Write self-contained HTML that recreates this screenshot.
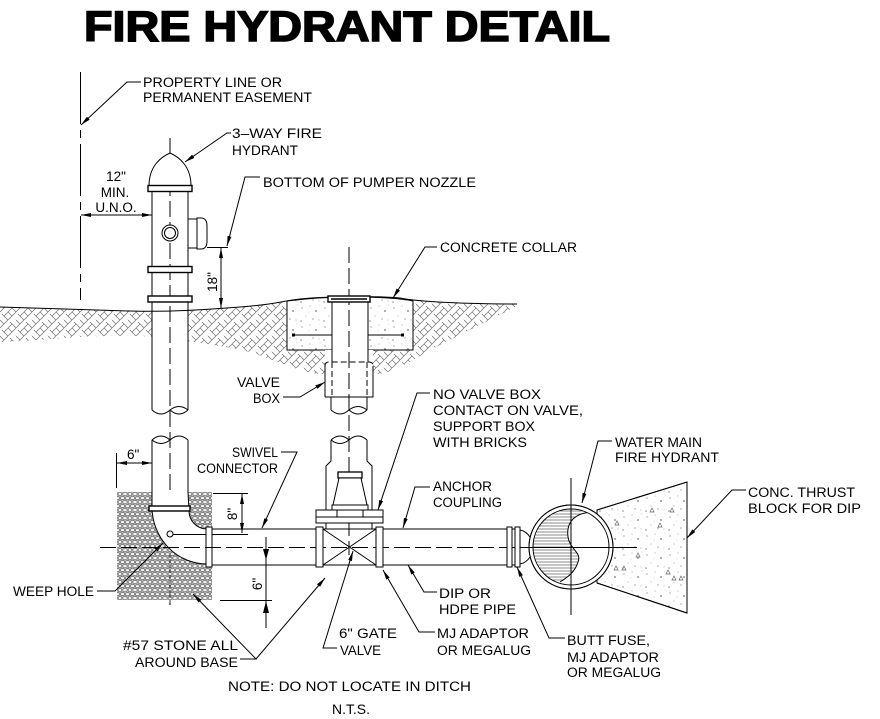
<!DOCTYPE html>
<html><head><meta charset="utf-8"><style>
html,body{margin:0;padding:0;background:#fff;}
svg{display:block;}
</style></head><body>
<svg width="880" height="719" viewBox="0 0 880 719" xmlns="http://www.w3.org/2000/svg">
<defs>
<marker id="ar" viewBox="0 0 10 4" refX="10" refY="2" markerWidth="10" markerHeight="4" markerUnits="userSpaceOnUse" orient="auto-start-reverse"><path d="M0,0 L10,2 L0,4 Z" fill="#000"/></marker>
<pattern id="hb" width="16" height="16" patternUnits="userSpaceOnUse">
<path d="M0,8 L8,0 M8,16 L16,8 M-4,4 L4,-4 M4,12 L12,4 M12,20 L20,12 M0,0 L4,4 M8,8 L12,12 M4,12 L8,16 M12,4 L16,8 M0,16 L-2,14 M2,10 L6,14 M10,2 L14,6" stroke="#7c7c7c" stroke-width="0.8" fill="none"/>
</pattern>
<pattern id="st" width="10" height="8" patternUnits="userSpaceOnUse">
<rect width="10" height="8" fill="#b8b8b8"/>
<ellipse cx="2.5" cy="2" rx="2.1" ry="1.6" fill="#f4f4f4" stroke="#5a5a5a" stroke-width="0.6"/>
<ellipse cx="7.5" cy="2.2" rx="2" ry="1.5" fill="#f4f4f4" stroke="#5a5a5a" stroke-width="0.6"/>
<ellipse cx="5" cy="6" rx="2.2" ry="1.6" fill="#f4f4f4" stroke="#5a5a5a" stroke-width="0.6"/>
<ellipse cx="0" cy="6" rx="1.9" ry="1.5" fill="#f4f4f4" stroke="#5a5a5a" stroke-width="0.6"/>
<ellipse cx="10" cy="6" rx="1.9" ry="1.5" fill="#f4f4f4" stroke="#5a5a5a" stroke-width="0.6"/>
</pattern>
<pattern id="cc" width="23" height="19" patternUnits="userSpaceOnUse">
<circle cx="3" cy="4" r="0.6" fill="#777"/><circle cx="11" cy="2" r="0.5" fill="#888"/>
<circle cx="17" cy="7" r="0.9" fill="#777"/><circle cx="7" cy="12" r="0.5" fill="#888"/>
<circle cx="14" cy="15" r="0.6" fill="#777"/><circle cx="20" cy="16" r="0.5" fill="#999"/>
<circle cx="2" cy="17" r="0.8" fill="#888"/><circle cx="10" cy="8" r="0.4" fill="#999"/>
<circle cx="21" cy="1" r="0.4" fill="#999"/>
</pattern>
<clipPath id="cin"><circle cx="571" cy="547" r="38"/></clipPath>
<clipPath id="hs"><path d="M595,512 C575,512 566,522 568,537 C570,550 582,552 578,562 C575,572 568,577 560,582 L520,600 L520,500 L600,500 Z"/></clipPath>
</defs>
<rect width="880" height="719" fill="#fff"/>

<!-- Title -->
<text x="84" y="41" font-family="Liberation Sans, Arial, sans-serif" font-weight="bold" font-size="43" textLength="526" lengthAdjust="spacingAndGlyphs" fill="#000" stroke="#000" stroke-width="1.6">FIRE HYDRANT DETAIL</text>

<!-- ground hatch -->
<path d="M0,307 C40,308 90,310 130,311 S200,310 240,307 S280,301 300,299 C330,296 380,296 400,298 C420,302 470,304 517,304 L517,306 C500,315 470,330 440,345 C420,355 400,370 380,374 L320,374 C300,372 280,362 250,352 C220,345 190,342 170,338 C130,334 80,336 40,340 L0,342 Z" fill="url(#hb)"/>
<rect x="152" y="295" width="36" height="115" fill="#fff"/>
<path d="M287,301 C310,298 330,297 350,297 C380,297 400,298 413,301 L413,350 L287,350 Z" fill="#fff"/>
<path d="M287,301 C310,298 330,297 350,297 C380,297 400,298 413,301 L413,350 L287,350 Z" fill="url(#cc)" stroke="#000" stroke-width="1"/>
<rect x="325" y="350" width="48" height="47" fill="#fff"/>
<rect x="332" y="297" width="36" height="53" fill="#fff"/>
<path d="M0,307 C40,308 90,310 130,311 S200,310 240,307 S280,301 300,299 C330,296 380,296 400,298 C420,302 470,304 517,304" fill="none" stroke="#000" stroke-width="1"/>

<g fill="none" stroke="#000" stroke-width="1">
<line x1="80.5" y1="72" x2="80.5" y2="300" stroke-dasharray="52 6 8 6"/>
<line x1="170" y1="138" x2="170" y2="605" stroke-dasharray="16 5"/>
<line x1="349" y1="247" x2="349" y2="555" stroke-dasharray="16 5"/>

<path d="M149,186 C149,166 161,157 170,153 C179,157 191,166 191,186" fill="#fff"/>
<rect x="148" y="185.5" width="44" height="6" fill="#fff" stroke-width="1.4"/>
<line x1="152" y1="191" x2="152" y2="410"/>
<line x1="188" y1="191" x2="188" y2="410"/>
<rect x="148" y="266.5" width="44" height="6" fill="#fff" stroke-width="1.4"/>
<rect x="148" y="296" width="44" height="6" fill="#fff" stroke-width="1.4"/>
<rect x="188" y="219" width="9" height="29" fill="#fff"/>
<path d="M197,218 L201,218 Q207,218 207,226 L207,241 Q207,249 201,249 L197,249 Z" fill="#fff"/>
<circle cx="170" cy="233" r="8" fill="#fff"/>
<circle cx="170" cy="233" r="5.5"/>
<path d="M152,410 Q161,418 170,410 Q179,418 188,410 M170,410 Q179,403 188,410"/>
<path d="M152,440 Q161,432 170,440 Q179,432 188,440 M152,440 Q161,447 170,440"/>
<line x1="152" y1="440" x2="152" y2="492"/>
<line x1="188" y1="440" x2="188" y2="492"/>

<rect x="328" y="296" width="42" height="6" fill="#fff" stroke-width="1.4"/>
<line x1="331" y1="299" x2="367" y2="299" stroke-width="1.5"/>
<line x1="332" y1="302" x2="332" y2="362"/>
<line x1="368" y1="302" x2="368" y2="362"/>
<line x1="294" y1="335" x2="332" y2="335"/>
<line x1="368" y1="335" x2="403" y2="335"/>
<path d="M325,397 L325,366 M373,366 L373,397 L325,397"/>
<path d="M325,366 Q325,362 329,362 L369,362 Q373,362 373,366" stroke-dasharray="6 3"/>
<line x1="332" y1="362" x2="332" y2="397" stroke-dasharray="6 3"/>
<line x1="367" y1="362" x2="367" y2="397" stroke-dasharray="6 3"/>
<line x1="331" y1="397" x2="331" y2="410"/>
<line x1="367" y1="397" x2="367" y2="410"/>
<path d="M331,410 Q340,418 349,410 Q358,418 367,410 M349,410 Q358,403 367,410"/>
<path d="M331,440 Q340,432 349,440 Q358,432 367,440 M331,440 Q340,447 349,440"/>

<path d="M331,440 L331,461 L326,466 L326,529 M367,440 L367,461 L372,466 L372,529"/>
<rect x="338" y="472" width="24" height="6" fill="#fff" stroke-width="1.3"/>
<path d="M339,478 L333,505 L367,505 L361,478 Z" fill="#fff"/>
<rect x="332" y="505" width="36" height="5" fill="#fff"/>
<rect x="316" y="510" width="67" height="13" fill="#fff"/>
<path d="M337,510 L337,517 L363,517 L363,510 M316,517 L337,517 M363,517 L383,517"/>
</g>
<g fill="#000">
<rect x="292" y="333.5" width="3" height="3"/><rect x="401" y="333.5" width="3" height="3"/>
</g>

<rect x="117" y="492" width="95" height="108" fill="url(#st)"/>
<path d="M152,492 L152,507 A55,57 0 0,0 207,564 L212,564 L212,529 L207,529 A18,18 0 0,1 189,511 L188,492 Z" fill="#fff"/>
<g fill="none" stroke="#000" stroke-width="1">
<path d="M152,492 L152,507 A55,57 0 0,0 207,564"/>
<path d="M207,529 A18,18 0 0,1 189,511 L188,492"/>
<rect x="149" y="506" width="41" height="5" fill="#fff" stroke-width="1.4"/>
<circle cx="170" cy="534" r="3" fill="#fff"/>
<line x1="173" y1="534.5" x2="248" y2="534.5"/>
<line x1="170" y1="555" x2="170" y2="605" stroke="#333" stroke-dasharray="3 2"/>

<rect x="206" y="527" width="6" height="40" fill="#fff"/>
<line x1="212" y1="529" x2="316" y2="529"/>
<line x1="212" y1="565" x2="316" y2="565"/>
<line x1="100" y1="547.5" x2="528" y2="547.5" stroke-dasharray="16 5"/>
<rect x="316" y="527" width="7" height="40" fill="#fff"/>
<rect x="376" y="527" width="7" height="40" fill="#fff"/>
<path d="M323,529 L376,529 M323,565 L376,565 M323,529 L376,565 M323,565 L376,529"/>
<line x1="383" y1="529" x2="507" y2="529"/>
<line x1="383" y1="565" x2="507" y2="565"/>
<rect x="507" y="527" width="5" height="40" fill="#fff"/>
<rect x="515" y="527" width="5" height="40" fill="#fff"/>
<path d="M512,529 L515,529 M512,565 L515,565"/>
<path d="M520,530 Q526,531 530,537 M520,564 Q526,563 530,557"/>

<path d="M597,510 L687,482 L687,613 L597,583 Z" fill="url(#cc)"/>
<circle cx="571" cy="547" r="42" fill="#fff"/>
</g>
<g clip-path="url(#cin)">
<path d="M520,511 H600 M520,514 H600 M520,517 H600 M520,520 H600 M520,523 H600 M520,526 H600 M520,529 H600 M520,532 H600 M520,535 H600 M520,538 H600 M520,541 H600 M520,544 H600 M520,547 H600 M520,550 H600 M520,553 H600 M520,556 H600 M520,559 H600 M520,562 H600 M520,565 H600 M520,568 H600 M520,571 H600 M520,574 H600 M520,577 H600 M520,580 H600 M520,583 H600" stroke="#666" stroke-width="0.7" clip-path="url(#hs)"/>
</g>
<g fill="none" stroke="#000" stroke-width="1">
<path d="M595,512 C575,512 566,522 568,537 C570,550 582,552 578,562 C575,572 568,577 560,582" clip-path="url(#cin)"/>
<circle cx="571" cy="547" r="38"/>
<circle cx="571" cy="547" r="42"/>
<line x1="528" y1="547.5" x2="637" y2="547.5"/>
<line x1="571" y1="478" x2="571" y2="615"/>
<path d="M597,510 L687,482 L687,613 L597,583"/>
</g>
<g fill="none" stroke="#666" stroke-width="0.7">
<path d="M650,512 l2,-4 l2,4 z M670,512 l2,-4 l2,4 z M658,527 l2,-4 l2,4 z M615,525 l2,-4 l2,4 z M636,557 l2,-4 l2,4 z M614,570 l2,-4 l2,4 z M622,570 l2,-4 l2,4 z M666,574 l2,-4 l2,4 z M672,580 l2,-4 l2,4 z M679,580 l2,-4 l2,4 z"/>
</g>

<g fill="none" stroke="#000" stroke-width="1">
<path d="M81,125 L127,82 L141,82" marker-start="url(#ar)"/>
<path d="M185,162 L227,133 L231,133" marker-start="url(#ar)"/>
<path d="M227,246 L245,177 L260,177" marker-start="url(#ar)"/>
<path d="M393,298 L425,247 L437,247" marker-start="url(#ar)"/>
<path d="M325,382 L300,397 L283,397" marker-start="url(#ar)"/>
<path d="M378,510 L417,393 L430,393" marker-start="url(#ar)"/>
<path d="M262,528 L297,452 L281,452" marker-start="url(#ar)"/>
<path d="M403,528 L415,487 L430,487" marker-start="url(#ar)"/>
<path d="M582,503 L598,441 L612,441" marker-start="url(#ar)"/>
<path d="M687,538 L732,490 L746,490" marker-start="url(#ar)"/>
<path d="M163,543 L115,591 L97,591" marker-start="url(#ar)"/>
<path d="M193,594 L256,659 L240,659" marker-start="url(#ar)"/>
<path d="M325,578 L256,659" marker-start="url(#ar)"/>
<path d="M353,551 L323,648 L337,648" marker-start="url(#ar)"/>
<path d="M383,570 L419,632 L435,632" marker-start="url(#ar)"/>
<path d="M408,565 L424,592 L437,592" marker-start="url(#ar)"/>
<path d="M517,567 L549,638 L565,638" marker-start="url(#ar)"/>
<path d="M81,215 L152,215" marker-start="url(#ar)" marker-end="url(#ar)"/>
<path d="M207,247.5 L228,247.5"/>
<path d="M221,248 L221,308" marker-start="url(#ar)" marker-end="url(#ar)"/>
<path d="M116.5,453 L116.5,488"/>
<path d="M117,463 L152,463" marker-start="url(#ar)" marker-end="url(#ar)"/>
<path d="M213,493.5 L248,493.5"/>
<path d="M242,494 L242,533" marker-start="url(#ar)" marker-end="url(#ar)"/>
<path d="M220,600.5 L272,600.5"/>
<path d="M266,537 L266,628"/>
</g>
<path d="M263,549 L269,549 L266,560 Z M263,613 L269,613 L266,601 Z" fill="#000"/>

<g font-family="Liberation Sans, Arial, sans-serif" font-size="13.5" fill="#000">
<text x="143" y="87" textLength="139" lengthAdjust="spacingAndGlyphs">PROPERTY LINE OR</text>
<text x="143" y="102" textLength="169" lengthAdjust="spacingAndGlyphs">PERMANENT EASEMENT</text>
<text x="232" y="138" textLength="90" lengthAdjust="spacingAndGlyphs">3–WAY FIRE</text>
<text x="232" y="155" textLength="66" lengthAdjust="spacingAndGlyphs">HYDRANT</text>
<text x="116" y="181" text-anchor="middle">12"</text>
<text x="115" y="197" text-anchor="middle">MIN.</text>
<text x="116" y="212" text-anchor="middle">U.N.O.</text>
<text x="263" y="187" textLength="213" lengthAdjust="spacingAndGlyphs">BOTTOM OF PUMPER NOZZLE</text>
<text x="440" y="252" textLength="137" lengthAdjust="spacingAndGlyphs">CONCRETE COLLAR</text>
<text x="237" y="387" textLength="43" lengthAdjust="spacingAndGlyphs">VALVE</text>
<text x="253" y="403" textLength="27" lengthAdjust="spacingAndGlyphs">BOX</text>
<text x="433" y="399" textLength="108" lengthAdjust="spacingAndGlyphs">NO VALVE BOX</text>
<text x="433" y="415" textLength="150" lengthAdjust="spacingAndGlyphs">CONTACT ON VALVE,</text>
<text x="433" y="431" textLength="102" lengthAdjust="spacingAndGlyphs">SUPPORT BOX</text>
<text x="433" y="447" textLength="94" lengthAdjust="spacingAndGlyphs">WITH BRICKS</text>
<text x="232" y="457" textLength="46" lengthAdjust="spacingAndGlyphs">SWIVEL</text>
<text x="197" y="473" textLength="81" lengthAdjust="spacingAndGlyphs">CONNECTOR</text>
<text x="433" y="491" textLength="59" lengthAdjust="spacingAndGlyphs">ANCHOR</text>
<text x="433" y="507" textLength="69" lengthAdjust="spacingAndGlyphs">COUPLING</text>
<text x="615" y="447" textLength="87" lengthAdjust="spacingAndGlyphs">WATER MAIN</text>
<text x="615" y="462" textLength="104" lengthAdjust="spacingAndGlyphs">FIRE HYDRANT</text>
<text x="748" y="497" textLength="107" lengthAdjust="spacingAndGlyphs">CONC. THRUST</text>
<text x="748" y="513" textLength="113" lengthAdjust="spacingAndGlyphs">BLOCK FOR DIP</text>
<text x="127" y="459">6"</text>
<text x="13" y="596" textLength="81" lengthAdjust="spacingAndGlyphs">WEEP HOLE</text>
<text x="123" y="650" textLength="115" lengthAdjust="spacingAndGlyphs">#57 STONE ALL</text>
<text x="135" y="667" textLength="103" lengthAdjust="spacingAndGlyphs">AROUND BASE</text>
<text x="339" y="638" textLength="58" lengthAdjust="spacingAndGlyphs">6" GATE</text>
<text x="340" y="655" textLength="41" lengthAdjust="spacingAndGlyphs">VALVE</text>
<text x="439" y="598" textLength="52" lengthAdjust="spacingAndGlyphs">DIP OR</text>
<text x="439" y="614" textLength="77" lengthAdjust="spacingAndGlyphs">HDPE PIPE</text>
<text x="437" y="638" textLength="92" lengthAdjust="spacingAndGlyphs">MJ ADAPTOR</text>
<text x="437" y="655" textLength="94" lengthAdjust="spacingAndGlyphs">OR MEGALUG</text>
<text x="567" y="645" textLength="83" lengthAdjust="spacingAndGlyphs">BUTT FUSE,</text>
<text x="567" y="662" textLength="92" lengthAdjust="spacingAndGlyphs">MJ ADAPTOR</text>
<text x="567" y="677" textLength="94" lengthAdjust="spacingAndGlyphs">OR MEGALUG</text>
<text x="228" y="691" textLength="243" lengthAdjust="spacingAndGlyphs">NOTE: DO NOT LOCATE IN DITCH</text>
<text x="332" y="714" textLength="38" lengthAdjust="spacingAndGlyphs">N.T.S.</text>
<text transform="translate(217,282) rotate(-90)" text-anchor="middle">18"</text>
<text transform="translate(237,514) rotate(-90)" text-anchor="middle">8"</text>
<text transform="translate(262,584) rotate(-90)" text-anchor="middle">6"</text>
</g>
</svg>
</body></html>
